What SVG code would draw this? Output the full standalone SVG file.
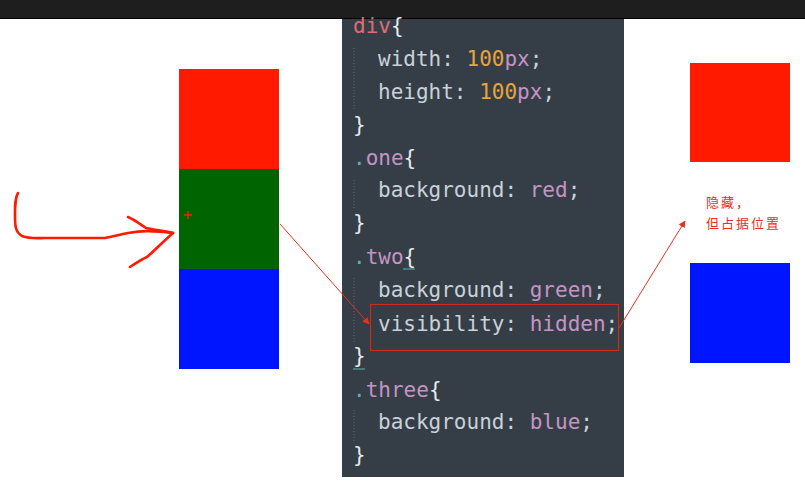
<svg xmlns="http://www.w3.org/2000/svg" width="805" height="495" viewBox="0 0 805 495">
<defs>
<style>
.code{font-family:"DejaVu Sans Mono","Liberation Mono",monospace;font-size:21px;fill:#c9d1d9}
.kw{fill:#e06c75}.num{fill:#e8a33c}.val{fill:#c594c5}.dot{fill:#5fb3b3}.br{fill:#e8eaed}
.conn{stroke:#e8301c;stroke-width:1;fill:none}
.hand{stroke:#ff1a00;stroke-width:2.6;fill:none;stroke-linecap:round;stroke-linejoin:round}
.guide{stroke:#5a646e;stroke-width:1;stroke-dasharray:1 2}
.lbl{font-family:"Noto Sans CJK SC","Noto Sans",sans-serif;font-size:13px;letter-spacing:2px;fill:#e8301c}
</style>
<marker id="ah" viewBox="0 0 10 10" refX="9" refY="5" markerWidth="7" markerHeight="7" orient="auto" markerUnits="userSpaceOnUse">
<path d="M0,0 L10,5 L0,10 z" fill="#e8301c"/>
</marker>
</defs>
<rect x="0" y="0" width="805" height="495" fill="#ffffff"/>
<rect x="0" y="0" width="805" height="18" fill="#1e1e1e"/>
<line x1="0" y1="18.5" x2="805" y2="18.5" stroke="#000" stroke-width="1"/>

<g id="code-panel">
<rect x="342" y="19" width="282" height="458" fill="#353e47"/>
<line class="guide" x1="354" y1="48" x2="354" y2="110"/>
<line class="guide" x1="354" y1="180" x2="354" y2="210"/>
<line class="guide" x1="354" y1="278" x2="354" y2="342"/>
<line class="guide" x1="354" y1="410" x2="354" y2="442"/>
<text class="code" x="353" y="33"><tspan class="kw">div</tspan><tspan class="br">{</tspan></text>
<text class="code" x="378" y="66">width: <tspan class="num">100</tspan><tspan class="val">px</tspan>;</text>
<text class="code" x="378" y="99">height: <tspan class="num">100</tspan><tspan class="val">px</tspan>;</text>
<text class="code br" x="353" y="132">}</text>
<text class="code" x="353" y="165"><tspan class="dot">.</tspan><tspan class="val">one</tspan><tspan class="br">{</tspan></text>
<text class="code" x="378" y="197">background: <tspan class="val">red</tspan>;</text>
<text class="code br" x="353" y="230">}</text>
<text class="code" x="353" y="264"><tspan class="dot">.</tspan><tspan class="val">two</tspan><tspan class="br">{</tspan></text>
<line x1="403" y1="269" x2="415" y2="269" stroke="#5fb3b3" stroke-width="1"/>
<text class="code" x="378" y="297">background: <tspan class="val">green</tspan>;</text>
<text class="code" x="378" y="331">visibility: <tspan class="val">hidden</tspan>;</text>
<text class="code br" x="353" y="363">}</text>
<line x1="353" y1="369" x2="365" y2="369" stroke="#5fb3b3" stroke-width="1"/>
<text class="code" x="353" y="397"><tspan class="dot">.</tspan><tspan class="val">three</tspan><tspan class="br">{</tspan></text>
<text class="code" x="378" y="429">background: <tspan class="val">blue</tspan>;</text>
<text class="code br" x="353" y="462">}</text>
<rect id="highlight" x="370.5" y="304.5" width="248" height="46" fill="none" stroke="#d0281a" stroke-width="1.2"/>
</g>

<g id="left-boxes">
<rect id="one" x="179" y="69" width="100" height="100" fill="#ff1a00"/>
<rect id="two" x="179" y="169" width="100" height="100" fill="#006400"/>
<rect id="three" x="179" y="269" width="100" height="100" fill="#0015ff"/>
<path d="M184,215 h8 M188,211 v8" stroke="#ff1a00" stroke-width="1.5"/>
</g>

<g id="right-boxes">
<rect id="one-r" x="690" y="63" width="100" height="99" fill="#ff1a00"/>
<rect id="three-r" x="690" y="263" width="100" height="100" fill="#0015ff"/>
</g>

<g id="label">
<text class="lbl" x="706" y="207">隐藏，</text>
<text class="lbl" x="706" y="228">但占据位置</text>
</g>

<g id="hand-arrow">
<path class="hand" d="M18,193 C15,198 15,205 15,215 C15,225 15,232 22,236 C30,239 38,238 45,238 L105,238 C112,237 118,235 128,233 C140,231 150,230 173,233"/>
<path class="hand" d="M128,217 C135,220 140,224 146,228 C155,230 165,231 173,233"/>
<path class="hand" d="M130,267 C136,263 142,259 147,257 C155,250 165,240 173,233"/>
</g>

<g id="connectors">
<line class="conn" x1="280" y1="224" x2="369" y2="324" marker-end="url(#ah)"/>
<line class="conn" x1="619" y1="328" x2="685" y2="221" marker-end="url(#ah)"/>
</g>
</svg>
